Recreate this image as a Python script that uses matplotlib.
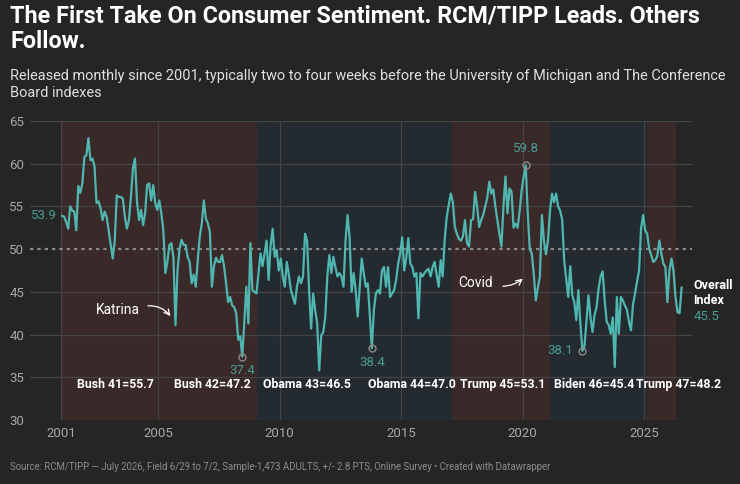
import numpy as np
import matplotlib
matplotlib.use("Agg")
import matplotlib.pyplot as plt

plt.rcParams['font.family'] = ['Roboto', 'DejaVu Sans']

# monthly index values, Jan 2001 .. Jul 2026, split by presidential term
bush1 = [53.9, 53.8, 53.2, 52.4, 55.0, 54.5, 54.4, 52.2, 57.4, 56.6,
         57.7, 60.8, 61.0, 63.0, 60.4, 60.6, 59.7, 55.4, 55.6, 54.8,
         53.4, 54.4, 53.8, 52.2, 50.5, 48.9, 51.0, 56.3, 56.1, 56.1,
         55.9, 53.8, 52.4, 53.4, 56.1, 59.5, 60.6, 55.5, 53.4, 54.6,
         52.8, 54.2, 57.5, 57.7, 55.7, 57.5, 55.4, 54.6]
bush2 = [55.7, 54.2, 52.2, 47.2, 48.5, 50.5, 50.7, 49.0, 41.1, 47.5,
         50.0, 51.1, 50.5, 50.5, 49.1, 48.5, 46.0, 47.0, 45.6, 48.7,
         51.5, 53.0, 55.7, 53.6, 53.0, 52.0, 45.6, 48.0, 49.0, 48.5,
         48.5, 49.3, 48.0, 46.0, 43.8, 44.4, 43.4, 43.2, 42.5, 39.4,
         39.8, 37.4, 41.5, 45.6, 41.3, 50.7, 45.2, 45.0]
obama1 = [44.8, 47.2, 49.5, 48.0, 49.5, 51.0, 46.4, 50.5, 52.4, 49.1,
          49.9, 47.5, 48.9, 46.8, 45.6, 48.5, 47.0, 45.2, 44.4, 43.6,
          45.6, 46.8, 46.0, 46.8, 51.8, 51.0, 45.2, 40.7, 44.8, 42.9,
          41.3, 35.8, 39.9, 40.3, 42.1, 46.8, 49.3, 47.2, 49.1, 47.9,
          46.8, 47.2, 46.8, 45.6, 51.0, 54.0, 51.4, 45.0]
obama2 = [47.2, 45.2, 42.1, 45.5, 48.9, 47.2, 45.6, 46.0, 42.1, 38.4,
          42.9, 44.8, 45.2, 44.8, 47.5, 47.9, 45.6, 47.9, 44.4, 44.8,
          45.2, 46.4, 48.3, 49.5, 51.4, 47.5, 49.0, 51.3, 48.3, 47.9,
          46.8, 47.2, 41.9, 47.2, 46.8, 47.2, 47.5, 47.7, 46.8, 47.9,
          48.5, 47.0, 45.6, 48.7, 46.8, 51.2, 53.8, 55.2]
trump1 = [56.5, 55.5, 52.6, 51.8, 51.2, 51.0, 51.5, 53.4, 50.7, 50.3,
          53.4, 53.5, 56.7, 55.0, 52.6, 53.4, 54.0, 55.0, 56.0, 57.9,
          56.5, 57.0, 55.0, 53.4, 51.8, 50.3, 55.0, 58.5, 54.2, 57.1,
          56.7, 52.5, 53.0, 52.5, 54.4, 56.9, 58.5, 59.8, 54.2, 50.0,
          49.5, 47.0, 44.0, 45.5, 46.8, 54.0, 51.0, 49.4]
biden = [51.0, 54.5, 56.5, 55.5, 56.5, 55.0, 54.5, 53.5, 48.7, 46.5,
         44.4, 48.0, 44.6, 43.8, 41.7, 45.2, 41.3, 38.1, 38.6, 41.5,
         44.6, 42.0, 40.3, 42.3, 43.2, 45.4, 46.8, 47.4, 44.0, 41.5,
         41.1, 40.1, 42.0, 36.2, 44.4, 40.1, 44.4, 44.0, 43.4, 42.9,
         41.5, 40.5, 43.5, 44.8, 46.2, 47.5, 52.5, 54.0]
trump2 = [52.2, 51.8, 50.0, 49.3, 48.5, 48.7, 49.2, 51.0, 49.5, 48.3,
          47.9, 43.8, 47.5, 48.9, 47.5, 44.4, 42.6, 42.5, 45.5]

terms = ["Bush 41", "Bush 42", "Obama 43", "Obama 44", "Trump 45", "Biden 46", "Trump 47"]
term_avg = [55.7, 47.2, 46.5, 47.0, 53.1, 45.4, 48.2]
term_start = [2001.05, 2005.0, 2009.07, 2013.02, 2017.09, 2021.12, 2025.11]
term_end = [2005.0, 2009.07, 2013.02, 2017.09, 2021.12, 2025.11, 2026.31]
term_party = ["R", "R", "D", "D", "R", "D", "R"]
label_x = [2003.22, 2007.21, 2011.12, 2015.44, 2019.19, 2022.93, 2026.43]

highlight = [(2008, 6), (2013, 10), (2020, 2), (2022, 6)]

values = np.array(bush1 + bush2 + obama1 + obama2 + trump1 + biden + trump2)
years = 2001 + (np.arange(len(values)) + 0.5) / 12

BG = '#252525'
LINE = '#50b6b0'
LAB = '#4a9c97'
GRID = '#454545'
shade = {"R": '#3a2929', "D": '#232b30'}

fig = plt.figure(figsize=(7.4, 4.84), dpi=100, facecolor=BG)
ax = fig.add_axes([30 / 740, 1 - 420 / 484, 662 / 740, 299 / 484])
ax.set_facecolor(BG)

for s, e, p in zip(term_start, term_end, term_party):
    ax.axvspan(s, e, color=shade[p], lw=0, zorder=0)

ax.set_xlim(1999.72, 2026.97)
ax.set_ylim(30, 65)
ax.set_yticks(range(30, 66, 5))
ax.set_xticks([2001, 2005, 2010, 2015, 2020, 2025])
ax.grid(True, color=GRID, lw=0.9, zorder=1)
ax.get_ygridlines()[4].set_visible(False)
for sp in ax.spines.values():
    sp.set_visible(False)
ax.tick_params(length=0, colors='#a8a8a8', labelsize=9.5)
ax.tick_params(axis='y', pad=4)
ax.tick_params(axis='x', pad=5)

ax.axhline(50, color='#8a8a8a', lw=1.6, ls=(0, (1.5, 1.8)), zorder=2)
ax.plot(years, values, color=LINE, lw=1.6, zorder=4, solid_joinstyle='round')

for name, avg, lx in zip(terms, term_avg, label_x):
    ax.text(lx, 34.1, f"{name}={avg}", color='white', fontsize=8.8, fontweight='bold',
            ha='center', va='center', zorder=6)

# start and end labels
ax.text(years[0] - 0.2, values[0], f"{values[0]}", color=LAB, fontsize=9.5,
        ha='right', va='center', zorder=6)
fig.text(694 / 740, 1 - 316 / 484, f"{values[-1]}", color=LAB, fontsize=9.5,
         ha='left', va='center')
fig.text(693 / 740, 1 - 293 / 484, "Overall\nIndex", color='white', fontsize=9,
         fontweight='bold', ha='left', va='center', linespacing=1.2)

# highlighted points
for (yr, mo) in highlight:
    i = (yr - 2001) * 12 + mo - 1
    ax.plot(years[i], values[i], 'o', ms=5, mfc='none', mec='#8a8a8a', mew=1, zorder=5)
    if values[i] > 50:
        ax.text(years[i], values[i] + 1.2, f"{values[i]}", color=LAB, fontsize=9.5,
                ha='center', va='bottom', zorder=6)
    elif yr == 2022:
        ax.text(years[i] - 0.4, values[i], f"{values[i]}", color=LAB, fontsize=9.5,
                ha='right', va='center', zorder=6)
    else:
        ax.text(years[i], values[i] - 0.9, f"{values[i]}", color=LAB, fontsize=9.5,
                ha='center', va='top', zorder=6)

# annotations
ax.text(2003.35, 42.9, "Katrina", color='white', fontsize=10, ha='center', va='center', zorder=6)
ax.annotate("", xy=(2005.57, 41.9), xytext=(2004.46, 43.35),
            arrowprops=dict(arrowstyle='->', color='white', lw=0.9,
                            connectionstyle='arc3,rad=-0.3'), zorder=6)
ax.text(2018.08, 46.05, "Covid", color='white', fontsize=10, ha='center', va='center', zorder=6)
ax.annotate("", xy=(2020.09, 46.75), xytext=(2019.07, 45.65),
            arrowprops=dict(arrowstyle='->', color='white', lw=0.9,
                            connectionstyle='arc3,rad=0.2'), zorder=6)

fig.text(10 / 740, 1 - 4 / 484,
         "The First Take On Consumer Sentiment. RCM/TIPP Leads. Others\nFollow.",
         color='white', fontsize=16.8, fontweight='bold', ha='left', va='top', linespacing=1.15)
fig.text(10 / 740, 1 - 69 / 484,
         "Released monthly since 2001, typically two to four weeks before the University of Michigan and The Conference\nBoard indexes",
         color='#e0e0e0', fontsize=10.45, ha='left', va='top', linespacing=1.25)
fig.text(10 / 740, 1 - 467 / 484,
         "Source: RCM/TIPP \u2014 July 2026, Field 6/29 to 7/2, Sample-1,473 ADULTS, +/- 2.8 PTS, Online Survey \u2022 Created with Datawrapper",
         color='#8c8c8c', fontsize=6.9, ha='left', va='center')

fig.savefig("out.png", dpi=100, facecolor=BG)
